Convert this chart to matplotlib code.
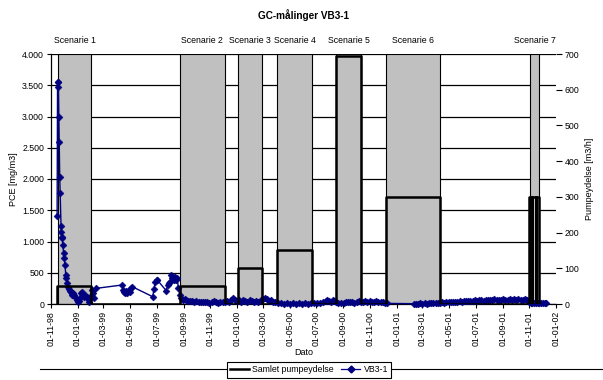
import matplotlib
matplotlib.use("Agg")
import matplotlib.pyplot as plt
import matplotlib.dates as mdates
from matplotlib.lines import Line2D
import numpy as np
import pandas as pd

plt.rcParams['font.family'] = ['Liberation Sans', 'DejaVu Sans']

# ---------------- data ----------------
title = "GC-målinger VB3-1"
scenario_names = ["Scenarie 1", "Scenarie 2", "Scenarie 3", "Scenarie 4",
                  "Scenarie 5", "Scenarie 6", "Scenarie 7"]
scenario_start = ["1998-11-17", "1999-08-23", "2000-01-03", "2000-04-02",
                  "2000-08-16", "2000-12-08", "2001-11-02"]
scenario_end = ["1999-02-01", "1999-12-04", "2000-02-28", "2000-06-21",
                "2000-10-12", "2001-04-10", "2001-11-24"]
# pumping periods (m3/h)
pump_start = ["1998-11-15", "1999-08-23", "2000-01-03", "2000-04-02",
              "2000-08-16", "2000-12-08", "2001-11-01", "2001-11-08", "2001-11-16"]
pump_end = ["1999-02-01", "1999-12-04", "2000-02-28", "2000-06-21",
            "2000-10-12", "2001-04-10", "2001-11-08", "2001-11-16", "2001-11-24"]
pump_rate = [50, 50, 100, 150, 695, 300, 300, 300, 300]

vb_dates = [
    "1998-11-15", "1998-11-16", "1998-11-17", "1998-11-18", "1998-11-19", "1998-11-20",
    "1998-11-21", "1998-11-22", "1998-11-24", "1998-11-25", "1998-11-26", "1998-11-27",
    "1998-11-28", "1998-11-30", "1998-12-01", "1998-12-03", "1998-12-05", "1998-12-06",
    "1998-12-08", "1998-12-10", "1998-12-12", "1998-12-14", "1998-12-16", "1998-12-18",
    "1998-12-20", "1998-12-22", "1998-12-24", "1998-12-27", "1998-12-30", "1999-01-02",
    "1999-01-04", "1999-01-06", "1999-01-08", "1999-01-10", "1999-01-13", "1999-01-16",
    "1999-01-19", "1999-01-22", "1999-01-25", "1999-01-28", "1999-01-30", "1999-02-01",
    "1999-02-03", "1999-02-05", "1999-02-08", "1999-02-12",
    "1999-04-13", "1999-04-15", "1999-04-17", "1999-04-19", "1999-04-21", "1999-04-23",
    "1999-04-25", "1999-04-28", "1999-05-01", "1999-05-04", "1999-05-06",
    "1999-06-22", "1999-06-25", "1999-06-28", "1999-07-01", "1999-07-03",
    "1999-07-23", "1999-07-26", "1999-07-29", "1999-08-01", "1999-08-03", "1999-08-05",
    "1999-08-07", "1999-08-09", "1999-08-11", "1999-08-13", "1999-08-15", "1999-08-17",
    "1999-08-20",
    "1999-08-23", "1999-08-26", "1999-08-30", "1999-09-03", "1999-09-07", "1999-09-11",
    "1999-09-15", "1999-09-20", "1999-09-25", "1999-09-30", "1999-10-05", "1999-10-10",
    "1999-10-15", "1999-10-20", "1999-10-25", "1999-10-30", "1999-11-04", "1999-11-09",
    "1999-11-14", "1999-11-19", "1999-11-24", "1999-11-29", "1999-12-04", "1999-12-09",
    "1999-12-14", "1999-12-19", "1999-12-23", "1999-12-27", "2000-01-01", "2000-01-05",
    "2000-01-10", "2000-01-15", "2000-01-20", "2000-01-25", "2000-01-30", "2000-02-04",
    "2000-02-09", "2000-02-14", "2000-02-19", "2000-02-24", "2000-03-01", "2000-03-05",
    "2000-03-09", "2000-03-14", "2000-03-19", "2000-03-24", "2000-03-29", "2000-04-03",
    "2000-04-10", "2000-04-17", "2000-04-24", "2000-05-01", "2000-05-08", "2000-05-15",
    "2000-05-22", "2000-05-29", "2000-06-05", "2000-06-12", "2000-06-19", "2000-06-26",
    "2000-07-03", "2000-07-10", "2000-07-17", "2000-07-22", "2000-07-26", "2000-07-30",
    "2000-08-03", "2000-08-07", "2000-08-11", "2000-08-15", "2000-08-20", "2000-08-27",
    "2000-09-03", "2000-09-08", "2000-09-12", "2000-09-17", "2000-09-21", "2000-09-26",
    "2000-10-01", "2000-10-06", "2000-10-11", "2000-10-16", "2000-10-21", "2000-10-26",
    "2000-10-31", "2000-11-05", "2000-11-10", "2000-11-15", "2000-11-20", "2000-11-25",
    "2000-11-30", "2000-12-05", "2000-12-10",
    "2001-02-09", "2001-02-14", "2001-02-19", "2001-02-24", "2001-03-01", "2001-03-06",
    "2001-03-11", "2001-03-16", "2001-03-21", "2001-03-26", "2001-03-31", "2001-04-05",
    "2001-04-10", "2001-04-15", "2001-04-20", "2001-04-25", "2001-04-30", "2001-05-05",
    "2001-05-10", "2001-05-15", "2001-05-20", "2001-05-25", "2001-05-30", "2001-06-04",
    "2001-06-09", "2001-06-14", "2001-06-19", "2001-06-24", "2001-06-29", "2001-07-04",
    "2001-07-09", "2001-07-14", "2001-07-19", "2001-07-24", "2001-07-29", "2001-08-03",
    "2001-08-08", "2001-08-13", "2001-08-18", "2001-08-23", "2001-08-28", "2001-09-02",
    "2001-09-07", "2001-09-12", "2001-09-17", "2001-09-22", "2001-09-27", "2001-10-02",
    "2001-10-07", "2001-10-12", "2001-10-17", "2001-10-22", "2001-10-27", "2001-11-01",
    "2001-11-04", "2001-11-08", "2001-11-12", "2001-11-16", "2001-11-20", "2001-11-24",
    "2001-11-28", "2001-12-02", "2001-12-06", "2001-12-09",
]
vb_values = [
    1413, 3560, 3560, 3470, 2990, 2600,
    2030, 1770, 1250, 1160, 1080, 1050,
    940, 810, 730, 620, 460, 410,
    330, 280, 240, 210, 190, 170,
    150, 180, 140, 120, 60, 30,
    50, 90, 170, 200, 150, 110,
    140, 120, 80, 40, 90, 130,
    220, 170, 100, 250,
    304, 230, 200, 180, 210, 170,
    190, 230, 200, 260, 277,
    117, 245, 360, 390, 380,
    213, 300, 336, 350, 464, 420,
    430, 380, 400, 430, 390, 410,
    250,
    140, 96, 70, 75, 60, 55,
    45, 50, 35, 45, 30, 40,
    25, 35, 30, 20, 30, 45,
    25, 20, 35, 25, 40, 50,
    35, 60, 100, 70, 50, 60,
    40, 70, 50, 35, 60, 45,
    30, 55, 40, 65, 80, 100,
    75, 50, 60, 40, 30, 15,
    10, 8, 12, 6, 10, 5,
    12, 8, 10, 6, 12, 10,
    15, 20, 25, 45, 60, 55,
    40, 65, 50, 35, 15, 10,
    20, 35, 25, 40, 30, 20,
    35, 45, 30, 40, 50, 35,
    45, 40, 30, 45, 35, 40,
    30, 20, 10,
    5, 8, 4, 10, 6, 12,
    8, 15, 10, 18, 12, 20,
    15, 25, 20, 30, 25, 35,
    30, 40, 35, 45, 40, 50,
    45, 55, 50, 45, 60, 55,
    65, 60, 55, 70, 65, 60,
    70, 75, 65, 70, 60, 75,
    70, 65, 75, 70, 80, 70,
    75, 65, 70, 75, 60, 30,
    20, 15, 10, 20, 15, 10,
    15, 20, 15, 10,
]

# ---------------- figure ----------------
W, H = 603, 380
fig = plt.figure(figsize=(W / 100, H / 100), dpi=100)
ax = fig.add_axes([51 / W, 1 - 304 / H, (556 - 51) / W, (304 - 54) / H])
ax2 = ax.twinx()

xmin = pd.Timestamp("1998-11-01")
xmax = pd.Timestamp("2002-01-01")

# gridlines (left axis)
ax.set_ylim(0, 4000)
ax.set_yticks(np.arange(0, 4001, 500))
ax.yaxis.grid(True, color='black', linewidth=0.9, zorder=0)
ax.set_axisbelow(True)

# grey scenario bands
for name, s, e in zip(scenario_names, scenario_start, scenario_end):
    s = pd.Timestamp(s); e = pd.Timestamp(e)
    ax.axvspan(s, e, ymin=0, ymax=1, facecolor='#C0C0C0', edgecolor='black',
               linewidth=0.8, zorder=1)
    mid = s + (e - s) / 2
    ax.text(mid, 1.055, name, transform=ax.get_xaxis_transform(),
            ha='center', va='center', fontsize=6.3)

# VB3-1 series
ax.plot(pd.to_datetime(vb_dates), vb_values, color='#000080', linewidth=1.0,
        marker='D', markersize=3.5, markeredgewidth=0.4, zorder=3, clip_on=False)

# pumping step line on secondary axis
px, py = [], []
for s, e, r in zip(pump_start, pump_end, pump_rate):
    s = pd.Timestamp(s); e = pd.Timestamp(e)
    px += [s, s, e, e]
    py += [0, r, r, 0]
ax2.plot(px, py, color='black', linewidth=1.8, zorder=4)
ax2.set_ylim(0, 700)
ax2.set_yticks(np.arange(0, 701, 100))

ax.set_xlim(xmin, xmax)
ax.xaxis.set_major_locator(mdates.MonthLocator(bymonth=[1, 3, 5, 7, 9, 11]))
ax.xaxis.set_major_formatter(mdates.DateFormatter('%d-%m-%y'))
ax.yaxis.set_major_formatter(plt.FuncFormatter(lambda v, p: f"{int(v):,}".replace(",", ".")))

for a in (ax, ax2):
    a.spines['top'].set_visible(False)
    a.spines['right'].set_visible(False)
ax.spines['left'].set_linewidth(0.9)
ax.spines['bottom'].set_linewidth(0.9)
ax2.spines['left'].set_visible(False)
ax2.spines['bottom'].set_visible(False)

ax.tick_params(axis='x', labelsize=6.3, rotation=90, length=3, width=0.8, pad=2)
ax.tick_params(axis='y', labelsize=6.3, length=3, width=0.8, pad=2)
ax2.tick_params(axis='y', labelsize=6.3, length=4, width=0.8, pad=2)

ax.set_ylabel("PCE [mg/m3]", fontsize=6.5, labelpad=3)
ax2.set_ylabel("Pumpeydelse [m3/h]", fontsize=6.5, labelpad=4)
ax.set_xlabel("Dato", fontsize=6.5, labelpad=1)

fig.text(303 / W, 1 - 15 / H, title, ha='center', va='center',
         fontsize=7.2, fontweight='bold')

# bottom border line
fig.add_artist(Line2D([40 / W, 1.0], [1 - 369 / H] * 2, color='black', linewidth=0.8, zorder=1))

handles = [Line2D([], [], color='black', linewidth=1.8),
           Line2D([], [], color='#000080', linewidth=0.9, marker='D', markersize=3.5)]
leg = fig.legend(handles, ["Samlet pumpeydelse", "VB3-1"], loc='center',
                 bbox_to_anchor=(309 / W, 1 - 370 / H), ncol=2, fontsize=6.3,
                 frameon=True, fancybox=False, edgecolor='black', framealpha=1,
                 handlelength=2.2, handletextpad=0.4, columnspacing=0.8,
                 borderpad=0.35)
leg.get_frame().set_linewidth(0.8)
leg.set_zorder(5)

fig.savefig("out.png", dpi=100)
